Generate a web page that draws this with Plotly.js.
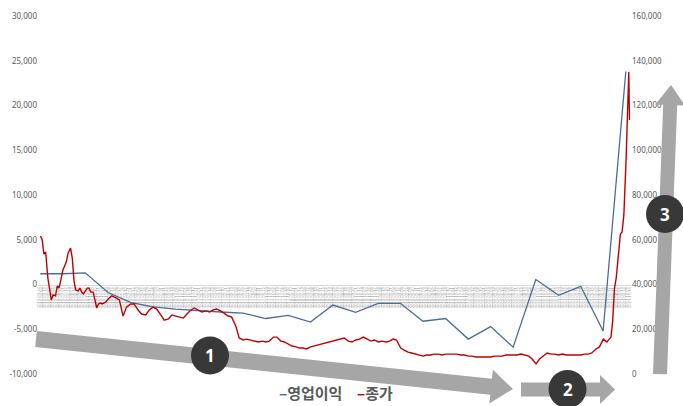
<!DOCTYPE html>
<html>
<head>
<meta charset="utf-8">
<script src="https://cdn.plot.ly/plotly-3.0.1.min.js"></script>
<style>html,body{margin:0;padding:0;background:#fff;}#chart{width:683px;height:406px;}</style>
</head>
<body>
<div id="chart"></div>
<script>
// ---- data ----
const profitDates = ['2015-03-31','2015-06-30','2015-09-30','2015-12-31','2016-03-31','2016-06-30','2016-09-30','2016-12-31',
  '2017-03-31','2017-06-30','2017-09-30','2017-12-31','2018-03-31','2018-06-30','2018-09-30','2018-12-31',
  '2019-03-31','2019-06-30','2019-09-30','2019-12-31','2020-03-31','2020-06-30','2020-09-30','2020-12-31',
  '2021-03-31','2021-06-30','2021-09-30'];
const profitValues = [1200,1200,1300,-900,-2000,-2500,-2750,-2950,-3070,-3190,-3800,-3440,-4200,-2300,-3100,-2100,
  -2100,-4100,-3800,-6100,-4700,-7000,550,-1200,-200,-5200,23800];

const priceDates = ['2015-04-01','2015-04-08','2015-04-15','2015-04-22','2015-05-01','2015-05-08','2015-05-15','2015-05-22',
  '2015-06-01','2015-06-08','2015-06-15','2015-06-22','2015-07-01','2015-07-08','2015-07-15','2015-07-22',
  '2015-08-01','2015-08-08','2015-08-15','2015-08-22','2015-09-01','2015-09-08','2015-09-15','2015-09-22',
  '2015-10-01','2015-10-08','2015-10-15','2015-10-22','2015-11-01','2015-11-08','2015-11-15','2015-11-22',
  '2015-12-01','2015-12-08','2015-12-15','2015-12-22',
  '2016-01-01','2016-01-15','2016-02-01','2016-02-15','2016-03-01','2016-03-08','2016-03-15','2016-04-01','2016-04-15',
  '2016-05-01','2016-05-15','2016-06-01','2016-06-15','2016-07-01','2016-07-15','2016-08-01','2016-08-15',
  '2016-09-01','2016-09-15','2016-10-01','2016-10-15','2016-11-01','2016-11-15','2016-12-01','2016-12-15',
  '2017-01-01','2017-01-15','2017-02-01','2017-02-15','2017-03-01','2017-03-15','2017-04-01','2017-04-15',
  '2017-05-01','2017-05-15','2017-06-01','2017-06-15','2017-07-01','2017-07-15','2017-08-01','2017-08-15',
  '2017-09-01','2017-09-15','2017-10-01','2017-10-15','2017-11-01','2017-11-15','2017-12-01','2017-12-15',
  '2018-01-01','2018-01-15','2018-02-01','2018-02-15','2018-03-01','2018-03-15','2018-04-01','2018-04-15',
  '2018-05-01','2018-05-15','2018-06-01','2018-06-15','2018-07-01','2018-07-15','2018-08-01','2018-08-15',
  '2018-09-01','2018-09-15','2018-10-01','2018-10-15','2018-11-01','2018-11-15','2018-12-01','2018-12-15',
  '2019-01-01','2019-01-15','2019-02-01','2019-02-15','2019-03-01','2019-03-15','2019-04-01','2019-04-15',
  '2019-05-01','2019-05-15','2019-06-01','2019-06-15','2019-07-01','2019-07-15','2019-08-01','2019-08-15',
  '2019-09-01','2019-09-15','2019-10-01','2019-10-15','2019-11-01','2019-11-15','2019-12-01','2019-12-15',
  '2020-01-01','2020-01-15','2020-02-01','2020-02-15','2020-03-01','2020-03-15','2020-04-01','2020-04-15',
  '2020-05-01','2020-05-15','2020-06-01','2020-06-15','2020-07-01','2020-07-15','2020-08-01','2020-08-15',
  '2020-09-01','2020-09-15','2020-10-01','2020-10-15','2020-11-01','2020-11-15','2020-12-01','2020-12-15',
  '2021-01-01','2021-01-15','2021-02-01','2021-02-15','2021-03-01','2021-03-15','2021-04-01','2021-04-15',
  '2021-05-01','2021-05-15','2021-06-01','2021-06-15','2021-07-01','2021-07-15','2021-08-01','2021-08-08',
  '2021-08-15','2021-08-22','2021-09-01','2021-09-08','2021-09-15','2021-09-22','2021-10-01','2021-10-08',
  '2021-10-12','2021-10-15'];
const priceValues = [61700,59900,53600,54500,42900,37100,33100,35300,
  34900,39300,38400,41600,46500,48300,50100,54100,
  56300,51800,41600,37500,37100,38400,36600,35800,
  37500,38400,38400,36600,36600,32200,29500,31300,
  31700,31300,31700,32200,
  33500,34900,34000,33100,25900,27700,29900,31300,31300,
  28600,26800,26400,28600,29900,29000,26400,24100,
  24600,26400,25900,25500,25000,26800,28600,29500,
  28600,27700,28200,27700,28600,29000,28200,27300,
  25900,25500,21500,16100,15200,15600,15200,14700,
  14300,14700,14300,14700,16500,16500,14700,14300,
  13400,12500,12100,11600,11600,11200,12100,12500,
  13000,13400,13900,14300,14700,15200,15600,16100,
  14700,14300,15200,15600,16500,15600,14700,15200,
  14300,14700,14300,14700,15600,15200,11600,10700,
  9800,9400,8900,8500,8000,8500,8500,8900,
  8900,8500,8900,8900,8900,8900,8500,8500,
  8000,8000,7600,7600,7600,7600,7600,8000,
  8000,8000,8500,8500,8500,8500,8900,8500,
  8000,6700,4500,6700,8000,9400,8900,8900,
  8500,8900,8500,8500,8500,8500,8500,8900,
  8900,9400,11200,12100,15600,14300,16500,24100,
  38400,42900,55400,62600,63500,71100,95600,118000,
  135000,113500];

const leftTickVals = [-10000,-5000,0,5000,10000,15000,20000,25000,30000];
const leftTickText = ['-10,000','-5,000','0','5,000','10,000','15,000','20,000','25,000','30,000'];
const rightTickVals = [0,20000,40000,60000,80000,100000,120000,140000,160000];
const rightTickText = ['0','20,000','40,000','60,000','80,000','100,000','120,000','140,000','160,000'];
const seriesNames = ['영업이익','종가'];
const seriesColors = ['#4a6d9e','#c00000'];
const stageLabels = ['1','2','3'];

// ---- layout helpers (decoration only) ----
const W = 683, H = 406, ML = 38, MR = 52, MT = 16, MB = 32;
const PW = W - ML - MR, PH = H - MT - MB;
const px = x => (x - ML) / PW;
const py = y => (H - MB - y) / PH;
const path = pts => 'M ' + pts.map(p => px(p[0]).toFixed(4) + ' ' + py(p[1]).toFixed(4)).join(' L ') + ' Z';

const arrowGray = '#a6a6a6';
const circleColor = '#383838';
const arrows = [
  [[36.8,331.0],[491.9,378.7],[492.9,369.8],[513,389],[489.3,403.6],[490.3,394.7],[35.2,347.0]],
  [[521,382.5],[600,382.5],[600,375],[615,389.5],[600,404],[600,396.5],[521,396.5]],
  [[653,374],[663.2,104.7],[655.2,104.4],[671,85],[685.2,105.6],[677.2,105.3],[667,374.3]]
];
const circles = [[210,355.5],[567.5,389],[665,214]];
const R = 19;

const shapes = arrows.map(a => ({type:'path', xref:'paper', yref:'paper', path:path(a),
  fillcolor:arrowGray, line:{width:0}, layer:'above'}));
circles.forEach(c => shapes.push({type:'circle', xref:'paper', yref:'paper',
  x0:px(c[0]-R), x1:px(c[0]+R), y0:py(c[1]+R), y1:py(c[1]-R),
  fillcolor:circleColor, line:{width:0}, layer:'above'}));

const annotations = circles.map((c,i) => ({xref:'paper', yref:'paper', x:px(c[0]), y:py(c[1]),
  text:stageLabels[i], showarrow:false, xanchor:'center', yanchor:'middle',
  font:{family:'Noto Sans, sans-serif', size:17, color:'#ffffff', weight:'bold'}}));
const legendX = [277, 355];
seriesNames.forEach((n,i) => annotations.push({xref:'paper', yref:'paper', x:px(legendX[i]), y:py(392),
  xanchor:'left', yanchor:'middle', showarrow:false,
  text:'<span style="color:' + seriesColors[i] + '">–</span>' + n,
  font:{family:'Noto Sans CJK KR, sans-serif', size:15, color:'#595959', weight:'bold'}}));

const tickFont = {family:'Noto Sans, sans-serif', size:8, color:'#595959'};

const traces = [
  {x:profitDates, y:profitValues, name:seriesNames[0], type:'scatter', mode:'lines',
   line:{color:seriesColors[0], width:1.3}, yaxis:'y'},
  {x:priceDates, y:priceValues, name:seriesNames[1], type:'scatter', mode:'lines',
   line:{color:seriesColors[1], width:1.4}, yaxis:'y2'}
];

const layout = {
  width:W, height:H, margin:{l:ML, r:MR, t:MT, b:MB, pad:0},
  paper_bgcolor:'#ffffff', plot_bgcolor:'rgba(0,0,0,0)', showlegend:false,
  xaxis:{type:'date', range:['2015-03-22','2021-10-21'], anchor:'free', position:0.25,
    showgrid:false, zeroline:false, showline:true, linecolor:'#d9d9d9', linewidth:1,
    ticks:'', tick0:'2015-03-24', dtick:11*86400000, tickformat:'%Y-%m-%d', tickangle:-90,
    tickfont:{family:'Noto Sans, sans-serif', size:4, color:'#a0a0a0'}, layer:'below traces'},
  yaxis:{range:[-10000,30000], tickvals:leftTickVals, ticktext:leftTickText, tickfont:tickFont,
    showgrid:false, zeroline:false, showline:false, ticks:''},
  yaxis2:{range:[0,160000], tickvals:rightTickVals, ticktext:rightTickText, tickfont:tickFont,
    overlaying:'y', side:'right', anchor:'x', showgrid:false, zeroline:false, showline:false, ticks:''},
  shapes:shapes, annotations:annotations
};

Plotly.newPlot('chart', traces, layout, {displayModeBar:false, staticPlot:true});
</script>
</body>
</html>
